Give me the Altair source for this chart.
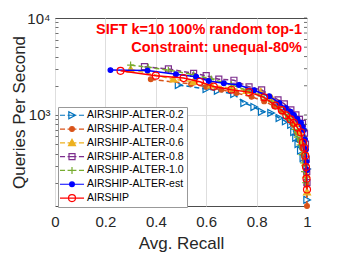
import altair as alt
import pandas as pd

FONT = "Liberation Sans"

names = ["AIRSHIP-ALTER-0.2", "AIRSHIP-ALTER-0.4", "AIRSHIP-ALTER-0.6",
         "AIRSHIP-ALTER-0.8", "AIRSHIP-ALTER-1.0", "AIRSHIP-ALTER-est", "AIRSHIP"]

recall_02 = [0.49, 0.60, 0.645, 0.71, 0.75, 0.79, 0.82, 0.857, 0.89, 0.915, 0.936, 0.948, 0.956, 0.965, 0.975, 0.985, 1.0, 1.0]
qps_02 = [2040, 1850, 1780, 1640, 1330, 1210, 1080, 1050, 930, 860, 790, 668, 580, 500, 430, 360, 277, 133]

recall_04 = [0.38, 0.54, 0.60, 0.66, 0.72, 0.78, 0.83, 0.87, 0.90, 0.925, 0.945, 0.96, 0.972, 0.982, 0.99, 0.995, 0.998, 1.0]
qps_04 = [2330, 2090, 1950, 1820, 1680, 1540, 1380, 1230, 1080, 930, 790, 660, 550, 450, 350, 260, 190, 115]

recall_06 = [0.30, 0.47, 0.55, 0.62, 0.70, 0.76, 0.817, 0.86, 0.89, 0.915, 0.935, 0.955, 0.97, 0.98, 0.988, 0.993, 0.997, 1.0]
qps_06 = [2950, 2330, 2200, 2030, 1880, 1780, 1730, 1480, 1300, 1120, 960, 810, 660, 530, 420, 320, 240, 160]

recall_08 = [0.355, 0.45, 0.55, 0.60, 0.65, 0.71, 0.77, 0.82, 0.885, 0.91, 0.936, 0.956, 0.97, 0.982, 0.99, 0.994, 0.997, 0.999, 1.0]
qps_08 = [3150, 2980, 2690, 2540, 2340, 2280, 1950, 1810, 1430, 1300, 1130, 1000, 900, 820, 650, 500, 350, 260, 200]

recall_10 = [0.30, 0.37, 0.45, 0.55, 0.62, 0.70, 0.76, 0.82, 0.86, 0.89, 0.915, 0.935, 0.95, 0.962, 0.972, 0.98, 0.986, 0.99, 0.995]
qps_10 = [3270, 3100, 2900, 2600, 2350, 2050, 1800, 1560, 1360, 1190, 1010, 840, 710, 590, 490, 390, 320, 260, 200]

recall_est = [0.22, 0.367, 0.48, 0.56, 0.61, 0.67, 0.73, 0.79, 0.85, 0.89, 0.916, 0.935, 0.948, 0.962, 0.976, 0.982, 0.988, 0.992, 0.996, 0.998, 1.0]
qps_est = [2900, 2870, 2630, 2480, 2240, 2120, 2040, 1800, 1560, 1330, 1180, 1080, 1000, 910, 830, 760, 700, 560, 440, 330, 270]

recall_air = [0.26, 0.40, 0.51, 0.575, 0.63, 0.70, 0.77, 0.83, 0.875, 0.90, 0.918, 0.935, 0.948, 0.962, 0.976, 0.984, 0.989, 0.993, 0.996, 0.998, 1.0]
qps_air = [2850, 2540, 2400, 2200, 1960, 1820, 1720, 1520, 1250, 1120, 990, 900, 830, 740, 660, 520, 460, 380, 290, 220, 170]

title_lines = ["SIFT k=10 100% random top-1", "Constraint: unequal-80%"]
x_ticks = [0, 0.2, 0.4, 0.6, 0.8, 1]
y_ticks = [200, 300, 400, 500, 600, 700, 800, 900, 1000,
           2000, 3000, 4000, 5000, 6000, 7000, 8000, 9000, 10000]

colors = ["#0072BD", "#D95319", "#EDB120", "#7E2F8E", "#77AC30", "#0000FF", "#FF0000"]
dashed = [True, True, True, True, True, False, False]

TRI_R = "M-1,-1.1L1.1,0L-1,1.1Z"
DOT = "M-0.75,0A0.75,0.75 0 1,0 0.75,0A0.75,0.75 0 1,0 -0.75,0Z"
TRI_U = "M0,-1.15L1.1,0.85L-1.1,0.85Z"
SQUARE = "M-0.95,-0.95H0.95V0.95H-0.95Z"
PLUS = "M-1.1,0H1.1M0,-1.1V1.1"
CIRCLE = "M-1.1,0A1.1,1.1 0 1,0 1.1,0A1.1,1.1 0 1,0 -1.1,0Z"
markers = [TRI_R, DOT, TRI_U, SQUARE, PLUS, DOT, CIRCLE]
fills = ["transparent", "#D95319", "#EDB120", "transparent", "transparent", "#0000FF", "transparent"]

DASHED_SYM = "M-3.8,0H-2.2M-1.4,0H1.4M2.2,0H3.8"
SOLID_SYM = "M-3.8,0H3.8"
legend_shapes = [(DASHED_SYM if d else SOLID_SYM) + m for d, m in zip(dashed, markers)]

series = [
    (names[0], recall_02, qps_02),
    (names[1], recall_04, qps_04),
    (names[2], recall_06, qps_06),
    (names[3], recall_08, qps_08),
    (names[4], recall_10, qps_10),
    (names[5], recall_est, qps_est),
    (names[6], recall_air, qps_air),
]
rows = []
for nm, rr, qq in series:
    for i, (a, b) in enumerate(zip(rr, qq)):
        rows.append({"name": nm, "recall": a, "qps": b, "idx": i})
df = pd.DataFrame(rows)

xscale = alt.Scale(domain=[0, 1], nice=False, zero=False)
yscale = alt.Scale(type="log", domain=[115, 10000], nice=False)

x_axis = alt.Axis(values=x_ticks, format="~g", ticks=False, domain=False,
                  labelFont=FONT, labelFontSize=15, labelColor="#262626",
                  labelPadding=8, labelFlush=False,
                  grid=True, gridColor="#dedede", gridWidth=1,
                  title="Avg. Recall", titleFont=FONT, titleFontSize=17,
                  titleFontWeight="normal", titleColor="#262626", titlePadding=6)
y_axis = alt.Axis(orient="left", offset=-3, tickSize=3, tickColor="#4d4d4d",
                  tickWidth=0.8, domain=False, values=y_ticks,
                  labelExpr="datum.value == 1000 ? '10³' : (datum.value == 10000 ? '10⁴' : '')",
                  labelPadding=5, labelFont=FONT, labelFontSize=15,
                  labelColor="#262626", labelOverlap=False, labelFlush=False,
                  grid=True, gridColor="#dedede",
                  gridOpacity=alt.condition("datum.value == 1000", alt.value(1), alt.value(0)),
                  title="Queries Per Second", titleFont=FONT, titleFontSize=17,
                  titleFontWeight="normal", titleColor="#262626",
                  titleX=-39, titleBaseline="middle")

base = alt.Chart(df)
layers = []
for k, (nm, col, fl, mk, dsh) in enumerate(zip(names, colors, fills, markers, dashed)):
    sub = base.transform_filter(alt.datum.name == nm)
    line_kw = dict(color=col, strokeWidth=1.5)
    if dsh:
        line_kw["strokeDash"] = [5, 3]
    if k == 0:
        xe = alt.X("recall:Q", scale=xscale, axis=x_axis)
        ye = alt.Y("qps:Q", scale=yscale, axis=y_axis)
    else:
        xe = alt.X("recall:Q", scale=xscale)
        ye = alt.Y("qps:Q", scale=yscale)
    layers.append(sub.mark_line(**line_kw).encode(x=xe, y=ye, order=alt.Order("idx:Q")))
    layers.append(sub.mark_point(shape=mk, size=40, stroke=col, fill=fl,
                                 strokeWidth=1.2, opacity=1).encode(
        x=alt.X("recall:Q", scale=xscale), y=alt.Y("qps:Q", scale=yscale)))

# inward ticks on the right frame (box-style axes)
right_ticks = alt.Chart(pd.DataFrame({"qps": y_ticks})).mark_rule(
    color="#4d4d4d", strokeWidth=0.8
).encode(y=alt.Y("qps:Q", scale=yscale), x=alt.value(249), x2=alt.value(252))

legend = alt.Legend(title=None, orient="none", legendX=3, legendY=89,
                    padding=3, rowPadding=1.8, labelFont=FONT, labelFontSize=10.5,
                    labelColor="black", labelLimit=300,
                    symbolOffset=5.75, labelOffset=9.75,
                    symbolSize=40, symbolStrokeWidth=1.2,
                    strokeColor="#999999", fillColor="white")

legend_layer = alt.Chart(pd.DataFrame({"name": names})).transform_filter("false").mark_point(
    size=40, strokeWidth=1.2, opacity=1
).encode(
    stroke=alt.Stroke("name:N", scale=alt.Scale(domain=names, range=colors), legend=legend),
    fill=alt.Fill("name:N", scale=alt.Scale(domain=names, range=fills), legend=legend),
    shape=alt.Shape("name:N", scale=alt.Scale(domain=names, range=legend_shapes), legend=legend),
)

t1 = alt.Chart(pd.DataFrame({"t": [title_lines[0]]})).mark_text(
    align="right", baseline="middle", font=FONT, fontSize=14.5, fontWeight="bold", color="#FF0000"
).encode(text="t:N", x=alt.value(247), y=alt.value(12))
t2 = alt.Chart(pd.DataFrame({"t": [title_lines[1]]})).mark_text(
    align="right", baseline="middle", font=FONT, fontSize=14.5, fontWeight="bold", color="#FF0000"
).encode(text="t:N", x=alt.value(247), y=alt.value(30))

chart = alt.layer(*layers, right_ticks, legend_layer, t1, t2).properties(
    width=252, height=188,
    autosize=alt.AutoSizeParams(type="none"),
    padding={"left": 47, "top": 10, "right": 24, "bottom": 46},
    background="white",
).configure_view(stroke="#4d4d4d", strokeWidth=1)

chart.save("out.html", embed_options={"renderer": "svg", "actions": False})
